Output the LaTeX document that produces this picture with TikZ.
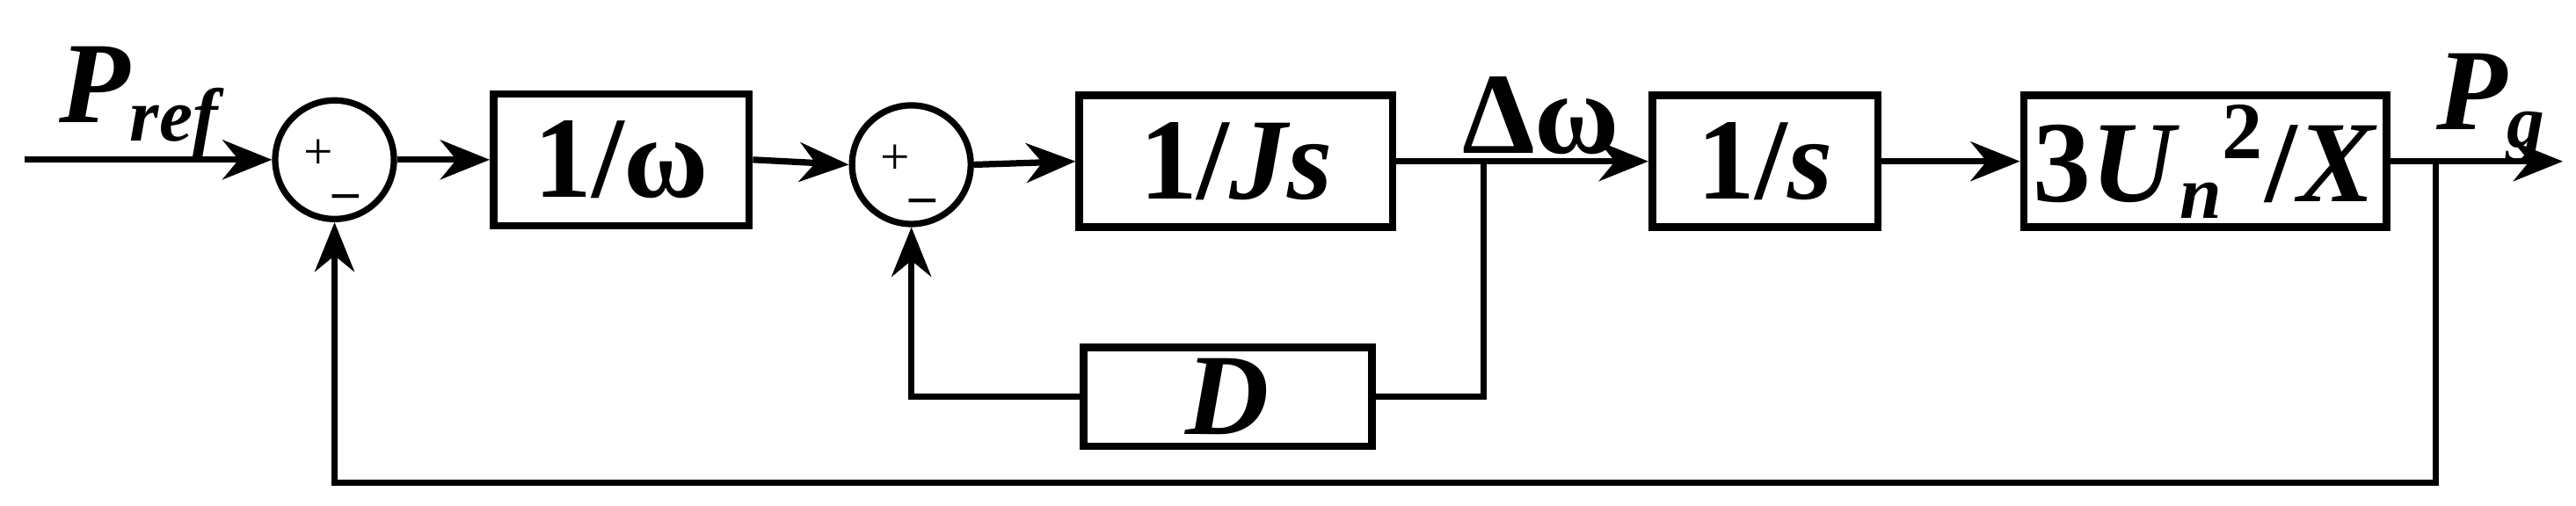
\documentclass[tikz,border=0pt]{standalone}
\usepackage{fontspec}
\setmainfont{Liberation Serif}
\usetikzlibrary{arrows.meta}
\begin{document}
\begin{tikzpicture}[x=0.01cm,y=-0.01cm,
  blk/.style={draw,line width=1.3pt,minimum height=0.8cm,inner sep=0pt,font=\fontsize{20}{24}\selectfont\bfseries},
  sum/.style={draw,circle,line width=1.1pt,minimum size=0.72cm,inner sep=0pt},
  sig/.style={line width=1.1pt,-{Stealth[length=0.3cm,width=0.24cm]}},
  ln/.style={line width=1.1pt},
  lab/.style={font=\fontsize{20}{24}\selectfont\bfseries\itshape}]
\useasboundingbox (0,0) rectangle (1563,307);
\coordinate (in) at (15,97);
\node[sum] (s1) at (203,97) {};
\node[font=\small] at (193,94) {+};
\node[font=\small] at (210,118) {\textbf{\_}};
\node[blk,minimum width=1.55cm] (b1) at (377,97) {1/ω};
\node[sum] (s2) at (553,100) {};
\node[font=\small] at (543,97) {+};
\node[font=\small] at (560,121) {\textbf{\_}};
\node[blk,minimum width=1.9cm] (b2) at (750,98) {1/\textit{Js}};
\node[blk,minimum width=1.37cm] (b3) at (1071,98) {1/\textit{s}};
\node[blk,minimum width=2.2cm] (b4) at (1338,98) {3\textit{U}\raisebox{-0.3ex}{\fontsize{13}{15}\selectfont\textit{n}}\textsuperscript{2}/\textit{X}};
\node[blk,minimum width=1.75cm,minimum height=0.6cm] (d) at (745,241) {\textit{D}};
\coordinate (br1) at (900,98);
\coordinate (br2) at (1478,98);
\coordinate (out) at (1555,98);
\node[lab] at (85,62) {P\textsubscript{\fontsize{13}{15}\selectfont ref}};
\node[font=\fontsize{20}{24}\selectfont\bfseries] at (935,70) {Δω};
\node[lab] at (1512,66) {P\textsubscript{\fontsize{13}{15}\selectfont g}};
\draw[sig] (in) -- (s1.west);
\draw[sig] (s1.east) -- (b1.west);
\draw[sig] (b1.east) -- (s2.west);
\draw[sig] (s2.east) -- (b2.west);
\draw[ln] (b2.east) -- (br1);
\draw[sig] (br1) -- (b3.west);
\draw[sig] (b3.east) -- (b4.west);
\draw[sig] (b4.east) -- (out);
\draw[ln] (br1) |- (d.east);
\draw[sig] (d.west) -| (s2.south);
\draw[sig] (br2) -- (1478,293) -| (s1.south);
\end{tikzpicture}
\end{document}
